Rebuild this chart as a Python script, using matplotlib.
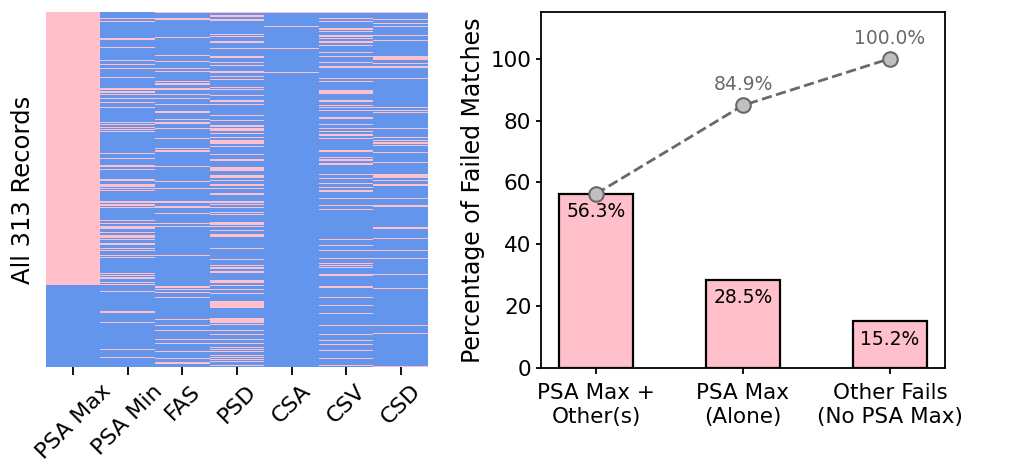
import numpy as np
import pandas as pd
import matplotlib
matplotlib.use("Agg")
import matplotlib.pyplot as plt
from matplotlib.colors import ListedColormap

N_RECORDS = 313
METRICS = ["PSA Max", "PSA Min", "FAS", "PSD", "CSA", "CSV", "CSD"]

# failing records per metric, as (first_row, last_row) runs, rows sorted by PSA Max fail
FAIL_RUNS = {
    "PSA Max": [(0, 240)],
    "PSA Min": [(5, 5), (8, 8), (23, 24), (31, 31), (42, 42), (46, 46), (49, 49),
                (57, 57), (67, 68), (70, 70), (72, 72), (76, 76), (79, 79), (84, 84),
                (97, 97), (99, 99), (101, 101), (103, 103), (105, 105), (124, 124),
                (129, 129), (135, 136), (138, 138), (147, 148), (152, 153), (155, 155),
                (157, 157), (167, 167), (169, 170), (172, 172), (183, 183), (186, 186),
                (189, 190), (194, 194), (197, 198), (200, 200), (204, 204), (208, 208),
                (210, 210), (214, 214), (216, 216), (230, 230), (232, 232), (234, 234),
                (238, 238), (240, 240), (246, 246), (264, 264), (273, 273), (297, 297),
                (304, 304)],
    "FAS": [(0, 0), (5, 6), (22, 22), (38, 38), (43, 43), (49, 49), (52, 52), (61, 61),
            (63, 63), (67, 68), (72, 72), (76, 76), (81, 81), (87, 88), (94, 94),
            (97, 98), (102, 102), (111, 111), (120, 120), (122, 122), (136, 136),
            (149, 149), (155, 155), (167, 167), (171, 172), (177, 177), (186, 186),
            (189, 189), (214, 214), (242, 242), (244, 244), (247, 247), (251, 251),
            (271, 271), (276, 276), (280, 280), (288, 288), (292, 292), (299, 299),
            (305, 305), (309, 309)],
    "PSD": [(0, 0), (3, 3), (6, 7), (19, 19), (21, 21), (26, 26), (32, 32), (39, 40),
            (44, 44), (47, 47), (52, 53), (56, 56), (59, 59), (66, 66), (68, 68),
            (73, 73), (78, 78), (81, 81), (91, 91), (95, 95), (100, 100), (102, 104),
            (107, 107), (110, 110), (113, 115), (118, 118), (125, 125), (130, 130),
            (137, 139), (144, 145), (148, 148), (152, 152), (155, 155), (160, 160),
            (167, 167), (169, 169), (172, 172), (176, 176), (178, 178), (185, 187),
            (189, 189), (192, 192), (196, 197), (208, 208), (218, 218), (223, 223),
            (225, 226), (228, 229), (236, 238), (241, 241), (244, 244), (248, 248),
            (255, 260), (270, 273), (275, 275), (280, 280), (284, 284), (288, 288),
            (292, 292), (295, 295), (297, 297), (299, 299), (302, 302), (304, 304),
            (306, 306), (308, 308), (311, 311)],
    "CSA": [(0, 0), (12, 12), (32, 32), (53, 53)],
    "CSV": [(0, 0), (5, 5), (8, 8), (14, 15), (17, 17), (20, 21), (23, 23), (26, 26),
            (29, 29), (35, 35), (39, 39), (44, 44), (48, 48), (58, 58), (61, 61),
            (69, 71), (78, 78), (82, 82), (84, 84), (86, 86), (93, 93), (99, 99),
            (102, 102), (105, 105), (108, 108), (111, 111), (122, 122), (128, 128),
            (130, 130), (133, 134), (143, 143), (146, 146), (151, 151), (154, 154),
            (157, 158), (164, 164), (170, 170), (174, 174), (200, 200), (205, 205),
            (210, 210), (217, 217), (221, 221), (223, 223), (225, 225), (231, 232),
            (242, 242), (251, 251), (258, 258), (265, 265), (276, 276), (284, 284),
            (289, 289), (293, 293), (298, 298), (305, 305), (311, 311)],
    "CSD": [(0, 0), (6, 6), (10, 10), (12, 12), (20, 20), (25, 25), (39, 41), (45, 45),
            (48, 48), (58, 58), (84, 84), (86, 86), (88, 88), (102, 102), (110, 110),
            (113, 113), (115, 115), (117, 117), (123, 123), (132, 132), (143, 145),
            (148, 148), (152, 152), (164, 164), (170, 171), (190, 190), (199, 199),
            (210, 210), (217, 217), (231, 231), (243, 243), (276, 276), (283, 283),
            (312, 312)],
}

CATEGORIES = ["PSA Max +\nOther(s)", "PSA Max\n(Alone)", "Other Fails\n(No PSA Max)"]
PERCENTS = [56.3, 28.5, 15.2]
CUMULATIVE = [56.3, 84.9, 100.0]

# binary fail matrix
mat = np.zeros((N_RECORDS, len(METRICS)), dtype=int)
for j, m in enumerate(METRICS):
    for a, b in FAIL_RUNS[m]:
        mat[a:b + 1, j] = 1
df = pd.DataFrame(mat, columns=METRICS)

fig = plt.figure(figsize=(10.34, 4.70), dpi=100)
fig.patch.set_facecolor("white")

# left: pass/fail map
ax1 = fig.add_axes([0.0445, 0.219, 0.3694, 0.755])
ax1.imshow(df.values, cmap=ListedColormap(["cornflowerblue", "pink"]),
           aspect="auto", interpolation="nearest", vmin=0, vmax=1)
ax1.set_xticks(range(len(METRICS)))
ax1.set_xticklabels(METRICS, rotation=45, fontsize=16)
ax1.set_yticks([])
ax1.tick_params(axis="x", length=6, width=1.3, pad=4)
for s in ax1.spines.values():
    s.set_visible(False)
ax1.set_ylabel(f"All {N_RECORDS} Records", fontsize=17.5, labelpad=8)

# right: failure breakdown with cumulative line
ax2 = fig.add_axes([0.5232, 0.217, 0.3907, 0.757])
x = np.arange(len(CATEGORIES))
ax2.bar(x, PERCENTS, width=0.5, color="pink", edgecolor="black", linewidth=1.6)
for xi, v in zip(x, PERCENTS):
    ax2.annotate(f"{v:.1f}%", (xi, v), xytext=(0, -13), textcoords="offset points",
                 ha="center", va="center", fontsize=13.5)

ax2.plot(x, CUMULATIVE, linestyle="--", color="dimgray", linewidth=2,
         marker="o", markersize=10.5, markerfacecolor="silver",
         markeredgecolor="dimgray", markeredgewidth=1.5)
for xi, v in zip(x[1:], CUMULATIVE[1:]):
    ax2.annotate(f"{v:.1f}%", (xi, v), xytext=(0, 8), textcoords="offset points",
                 ha="center", va="bottom", fontsize=13.5, color="dimgray")

ax2.set_ylim(0, 115)
ax2.set_xticks(x)
ax2.set_xticklabels(CATEGORIES, fontsize=15.5, linespacing=1.25)
ax2.set_yticks([0, 20, 40, 60, 80, 100])
ax2.tick_params(axis="y", labelsize=15.5, length=3.5, width=1.3)
ax2.tick_params(axis="x", length=4.5, width=1.3, pad=6)
ax2.set_ylabel("Percentage of Failed Matches", fontsize=17)
for s in ax2.spines.values():
    s.set_linewidth(1.3)

fig.savefig("out.png", dpi=100, facecolor="white")
